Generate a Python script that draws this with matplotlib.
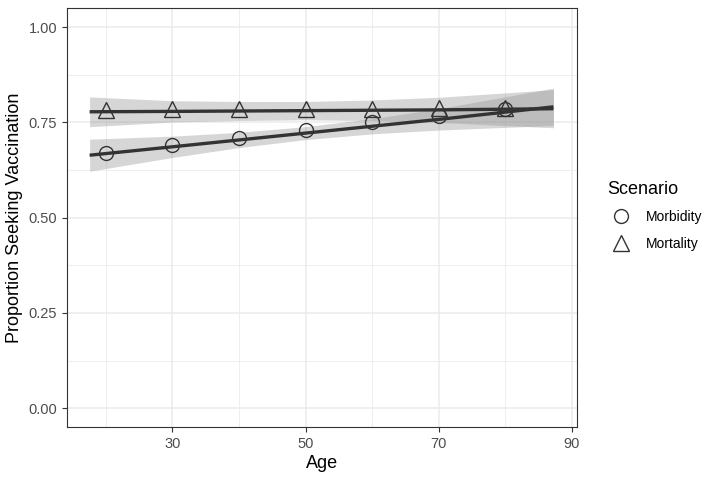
import matplotlib.pyplot as plt
import numpy as np

plt.rcParams["font.family"] = ["Liberation Sans", "DejaVu Sans"]

# binned means
ages = [20, 30, 40, 50, 60, 70, 80]
morbidity = [0.669, 0.690, 0.710, 0.730, 0.751, 0.767, 0.786]
mortality = [0.782, 0.784, 0.785, 0.786, 0.786, 0.788, 0.789]

# fitted lines with confidence bands
fit_ages = [17.6, 30, 40, 50, 60, 70, 87.2]
morb_fit = [0.664, 0.686, 0.704, 0.722, 0.740, 0.758, 0.791]
morb_half = [0.042, 0.028, 0.020, 0.017, 0.020, 0.028, 0.049]
mort_fit = [0.778, 0.779, 0.780, 0.781, 0.782, 0.783, 0.786]
mort_half = [0.039, 0.028, 0.025, 0.024, 0.027, 0.033, 0.050]

xticks = [30, 50, 70, 90]
yticks = [0.00, 0.25, 0.50, 0.75, 1.00]

fig = plt.figure(figsize=(7.2, 4.8), dpi=100)
ax = fig.add_axes([0.093, 0.110, 0.708, 0.873])

line_col = "#333333"
for fit, half in [(morb_fit, morb_half), (mort_fit, mort_half)]:
    fit = np.array(fit)
    half = np.array(half)
    ax.fill_between(fit_ages, fit - half, fit + half, color="#999999",
                    alpha=0.4, linewidth=0, zorder=2)
for fit in [morb_fit, mort_fit]:
    ax.plot(fit_ages, fit, color=line_col, lw=2.4, zorder=3,
            solid_capstyle="butt")

ax.plot(ages, morbidity, "o", ms=10, mfc="none", mec=line_col, mew=1.0,
        zorder=4, label="Morbidity")
ax.plot(ages, mortality, "^", ms=11.5, mfc="none", mec=line_col, mew=1.0,
        zorder=4, label="Mortality")

ax.set_xlim(14.2, 90.7)
ax.set_ylim(-0.05, 1.05)
ax.set_xticks(xticks)
ax.set_yticks(yticks)
ax.set_yticklabels([f"{v:.2f}" for v in yticks])
ax.set_xticks([20, 40, 60, 80], minor=True)
ax.set_yticks([0.125, 0.375, 0.625, 0.875], minor=True)
ax.grid(True, which="major", color="#ebebeb", lw=1.1, zorder=0)
ax.grid(True, which="minor", color="#ebebeb", lw=0.6, zorder=0)
ax.set_axisbelow(True)
ax.tick_params(which="major", length=3.5, width=0.8, color="#333333",
               labelsize=10.5, labelcolor="#4d4d4d")
ax.tick_params(which="minor", length=0)
for s in ax.spines.values():
    s.set_color("#333333")
    s.set_linewidth(0.8)

ax.set_xlabel("Age", fontsize=13, labelpad=3)
ax.set_ylabel("Proportion Seeking Vaccination", fontsize=13, labelpad=4)

leg = ax.legend(loc="upper left", bbox_to_anchor=(0.836, 0.635),
                bbox_transform=fig.transFigure, frameon=False,
                title="Scenario", fontsize=10, title_fontsize=13,
                handletextpad=0.8, labelspacing=0.9, borderaxespad=0)
leg._legend_box.align = "left"

fig.savefig("out.png", dpi=100)
